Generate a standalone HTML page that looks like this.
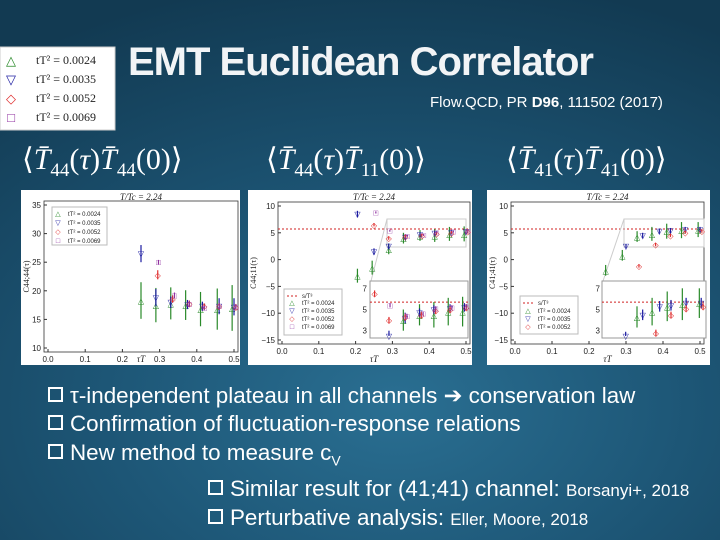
<!DOCTYPE html>
<html><head><meta charset="utf-8">
<style>
html,body{margin:0;padding:0}
body{width:720px;height:540px;overflow:hidden;position:relative;font-family:"Liberation Sans",sans-serif;
background:radial-gradient(ellipse 90% 80% at 55% 75%,#2a6f92 0%,#1d5676 45%,#123a52 100%);}
.t{position:absolute;color:#fff;white-space:nowrap}
.b{position:absolute;white-space:nowrap;color:#fff;font-size:22.4px;letter-spacing:0px}
.b .sq{display:inline-block;width:11px;height:11px;border:2px solid #fff;margin-right:7px;vertical-align:1px}
.m{position:absolute;color:#fff;font-family:"Liberation Serif",serif;font-size:30px;white-space:nowrap}
</style></head><body>
<div class="t" style="left:128px;top:40px;font-size:40px;font-weight:bold;color:#f2f4f6;letter-spacing:-1px">EMT Euclidean Correlator</div>
<div class="t" style="left:430px;top:94px;font-size:15px">Flow.QCD, PR <b>D96</b>, 111502 (2017)</div>
<div class="m" style="left:22px;top:142px">⟨<i>T̄</i><sub style="font-size:19px">44</sub>(<i>τ</i>)<i>T̄</i><sub style="font-size:19px">44</sub>(0)⟩</div>
<div class="m" style="left:266px;top:142px">⟨<i>T̄</i><sub style="font-size:19px">44</sub>(<i>τ</i>)<i>T̄</i><sub style="font-size:19px">11</sub>(0)⟩</div>
<div class="m" style="left:506px;top:142px">⟨<i>T̄</i><sub style="font-size:19px">41</sub>(<i>τ</i>)<i>T̄</i><sub style="font-size:19px">41</sub>(0)⟩</div>
<svg id="ch" width="720" height="540" style="position:absolute;left:0;top:0"></svg>
<div class="b" style="left:48px;top:383px"><span class="sq"></span>τ-independent plateau in all channels ➔ conservation law</div>
<div class="b" style="left:48px;top:411px"><span class="sq"></span>Confirmation of fluctuation-response relations</div>
<div class="b" style="left:48px;top:440px"><span class="sq"></span>New method to measure c<sub style="font-size:14px">V</sub></div>
<div class="b" style="left:208px;top:476px"><span class="sq"></span>Similar result for (41;41) channel: <span style="font-size:17px">Borsanyi+, 2018</span></div>
<div class="b" style="left:208px;top:505px"><span class="sq"></span>Perturbative analysis: <span style="font-size:17px">Eller, Moore, 2018</span></div>
<script>
const p1Tau=[[0.25,0.29,0.33,0.37,0.41,0.455,0.495],[0.25,0.29,0.33,0.375,0.415,0.46,0.5],[0.295,0.335,0.38,0.42,0.46,0.505],[0.297,0.34,0.38,0.42,0.46,0.505]];
const p1Val=[[18.3,17.5,17.8,17.5,16.8,16.8,17],[26.5,18.8,18,17.6,17.3,17.3,17.2],[22.8,18.6,17.8,17.3,17.3,17.2],[25,19.2,17.7,17,17.3,17.2]];
const p1Err=[[3.2,3,2.8,2.6,3,3.6,4],[1.5,1.5,1,0.8,0.8,1.4,1.5],[0.8,0.6,0.5,0.5,0.5,0.5],[0.4,0.5,0.5,0.4,0.4,0.4]];
const p2Tau=[[0.205,0.245,0.29,0.33,0.375,0.415,0.455,0.495],[0.205,0.25,0.29,0.335,0.375,0.415,0.46,0.5],[0.25,0.29,0.335,0.38,0.42,0.46,0.505],[0.255,0.293,0.34,0.385,0.42,0.465,0.505]];
const p2Val=[[-3,-1.5,2,4,4.5,4.5,4.8,4.8],[8.5,1.5,2.5,4.2,4.7,5,5.1,5.2],[6.5,4,4.3,4.5,4.9,5,5.2],[8.8,5.4,4.4,4.6,5.1,5.2,5.3]];
const p2Err=[[1.3,1.3,1,1,1,1.2,1.3,1.4],[0.6,0.6,0.5,0.5,0.4,0.4,0.4,0.4],[0.3,0.3,0.3,0.3,0.3,0.3,0.3],[0.2,0.2,0.2,0.2,0.2,0.2,0.2]];
const p3Tau=[[0.245,0.29,0.33,0.37,0.41,0.45,0.495],[0.3,0.345,0.39,0.42,0.46,0.5],[0.335,0.38,0.42,0.46,0.505]];
const p3Val=[[-2,0.8,4.3,4.8,5.3,5.5,5.6],[2.5,4.5,5.3,5.4,5.6,5.6],[-1.2,2.8,4.5,5.1,5.3]];
const p3Err=[[1,1,1,1.3,1.4,1.5,1.4],[0.4,0.5,0.5,0.5,0.5,0.5],[0.3,0.3,0.3,0.3,0.3]];
const legendLabels=["tT² = 0.0024","tT² = 0.0035","tT² = 0.0052","tT² = 0.0069"];
const plateau=5.7;
const xTicks=[0,0.1,0.2,0.3,0.4,0.5];
const y1Ticks=[10,15,20,25,30,35];
const y2Ticks=[-15,-10,-5,0,5,10];
const cols=["#2a8a2a","#1a1aa0","#e03030","#9030a0"];
const glyph=["△","▽","◇","□"];
const svg=document.getElementById('ch');const NS="http://www.w3.org/2000/svg";
function el(t,a,par){const e=document.createElementNS(NS,t);for(const k in a)e.setAttribute(k,a[k]);(par||svg).appendChild(e);return e;}
function txt(s,x,y,sz,anc,par,fam){const e=el('text',{x:x,y:y,'font-size':sz,'text-anchor':anc||'middle','font-family':fam||'Liberation Sans, sans-serif',fill:'#222'},par);e.textContent=s;return e;}
function mk(x0,x1,d0,d1){return v=>x0+(v-d0)/(d1-d0)*(x1-x0);}
function series(g,X,Y,taus,vals,errs,ylo,yhi,nm,xlo){
 taus.forEach((ts,s)=>{ts.forEach((t,i)=>{const v=vals[s][i],e=errs[s][i];
  if(v<ylo||v>yhi)return;if(xlo!==undefined&&t<xlo)return;const cx=X(t),cy=Y(v);
  const ln=el('line',{x1:cx,x2:cx,y1:Y(Math.min(yhi,v+e)),y2:Y(Math.max(ylo,v-e)),stroke:cols[s],'stroke-width':1.2},g);
  
  const m=txt(glyph[s],cx,cy+3,8,'middle',g);m.setAttribute('fill',cols[s]);
  });});}
function axes(g,X,Y,xt,yt,x0,x1,y0,y1){
 el('rect',{x:x0,y:y0,width:x1-x0,height:y1-y0,fill:'none',stroke:'#333','stroke-width':0.8},g);
 xt.forEach(t=>{el('line',{x1:X(t),x2:X(t),y1:y1,y2:y1-3,stroke:'#333'},g);txt(t.toFixed(1),X(t),y1+10,8,'middle',g);});
 yt.forEach(t=>{el('line',{x1:x0,x2:x0+3,y1:Y(t),y2:Y(t),stroke:'#333'},g);txt(String(t).replace('-','−'),x0-3,Y(t)+3,8,'end',g);});}
function panel(id,px,pw,x0,x1,y0,y1,yd,yt,ylab){
 const g=el('g',{});
 el('rect',{x:px,y:190,width:pw,height:175,fill:'#fff'},g);
 const X=mk(x0,x1,0,0.5),Y=mk(y1,y0,yd[0],yd[1]);
 axes(g,X,Y,xTicks,yt,x0-4,x1+4,y0-4,y1+4);
 txt('T/Tc = 2.24',(x0+x1)/2,200,9,'middle',g,'Liberation Serif, serif').setAttribute('font-style','italic');
 txt('τT',(x0+x1)/2,362,9,'middle',g,'Liberation Serif, serif').setAttribute('font-style','italic');
 const yl=txt(ylab,0,0,8,'middle',g,'Liberation Serif, serif');yl.setAttribute('transform','translate('+(px+8)+','+(y0+y1)/2+') rotate(-90)');
 return {g,X,Y};}
let P=panel('panel-t44-t44',21,219,48,234,205,348,[10,35],y1Ticks,'C44;44(τ)');
series(P.g,P.X,P.Y,p1Tau,p1Val,p1Err,10,35,'p1');
const lg=el('g',{},P.g);el('rect',{x:52,y:207,width:55,height:38,fill:'#fff',stroke:'#bbb'},lg);
legendLabels.forEach((l,i)=>{const a=txt(glyph[i],58,216+i*9,7,'middle',lg);a.setAttribute('fill',cols[i]);txt(l,68,216+i*9,6,'start',lg);});
P=panel('panel-t44-t11',248,224,282,466,206,340,[-15,10],y2Ticks,'C44;11(τ)');
el('line',{x1:278,x2:470,y1:P.Y(plateau),y2:P.Y(plateau),stroke:'#d02020','stroke-dasharray':'2,2'},P.g);
el('rect',{x:387,y:219,width:79,height:28,fill:'none',stroke:'#ccc'},P.g);
el('line',{x1:387,y1:219,x2:371,y2:281,stroke:'#ccc'},P.g);
series(P.g,P.X,P.Y,p2Tau,p2Val,p2Err,-15,10,'p2');
let ig=el('g',{},P.g);el('rect',{x:370,y:281,width:98,height:57,fill:'#fff',stroke:'#999'},ig);
let IX=mk(371,468,0.24,0.51),IY=mk(336,283,2.5,7.5);
el('line',{x1:370,x2:468,y1:IY(plateau),y2:IY(plateau),stroke:'#d02020','stroke-dasharray':'2,2'},ig);
[3,5,7].forEach(t=>txt(String(t),367,IY(t)+3,8,'end',ig));
series(ig,IX,IY,p2Tau,p2Val,p2Err,2.5,7.5,'p2-inset',0.24);
let l2=el('g',{},P.g);el('rect',{x:284,y:289,width:58,height:46,fill:'#fff',stroke:'#bbb'},l2);
el('line',{x1:287,x2:297,y1:296,y2:296,stroke:'#d02020','stroke-dasharray':'2,2'},l2);txt('s/T³',302,298,6,'start',l2);
legendLabels.forEach((l,i)=>{const a=txt(glyph[i],292,305+i*8,7,'middle',l2);a.setAttribute('fill',cols[i]);txt(l,302,305+i*8,6,'start',l2);});
P=panel('panel-t41-t41',487,223,515,700,206,340,[-15,10],y2Ticks,'C41;41(τ)');
el('line',{x1:511,x2:704,y1:P.Y(plateau),y2:P.Y(plateau),stroke:'#d02020','stroke-dasharray':'2,2'},P.g);
el('rect',{x:624,y:219,width:80,height:28,fill:'none',stroke:'#ccc'},P.g);
el('line',{x1:624,y1:219,x2:603,y2:281,stroke:'#ccc'},P.g);
series(P.g,P.X,P.Y,p3Tau,p3Val,p3Err,-15,10,'p3');
ig=el('g',{},P.g);el('rect',{x:602,y:281,width:104,height:57,fill:'#fff',stroke:'#999'},ig);
IX=mk(603,705,0.24,0.51);
el('line',{x1:602,x2:706,y1:IY(plateau),y2:IY(plateau),stroke:'#d02020','stroke-dasharray':'2,2'},ig);
[3,5,7].forEach(t=>txt(String(t),600,IY(t)+3,8,'end',ig));
series(ig,IX,IY,p3Tau,p3Val,p3Err,2.5,7.5,'p3-inset',0.24);
let l3=el('g',{},P.g);el('rect',{x:520,y:296,width:58,height:38,fill:'#fff',stroke:'#bbb'},l3);
el('line',{x1:523,x2:533,y1:303,y2:303,stroke:'#d02020','stroke-dasharray':'2,2'},l3);txt('s/T³',538,305,6,'start',l3);
legendLabels.slice(0,3).forEach((l,i)=>{const a=txt(glyph[i],528,313+i*8,7,'middle',l3);a.setAttribute('fill',cols[i]);txt(l,538,313+i*8,6,'start',l3);});
const tl=el('g',{});
el('rect',{x:0,y:47,width:115,height:83,fill:'#fff',stroke:'#ccc'},tl);
legendLabels.forEach((l,i)=>{const a=txt(glyph[i],11,65+i*19,13,'middle',tl);a.setAttribute('fill',cols[i]);
 txt(l,36,64+i*19,12,'start',tl,'Liberation Serif, serif');});
</script>
</body></html>
